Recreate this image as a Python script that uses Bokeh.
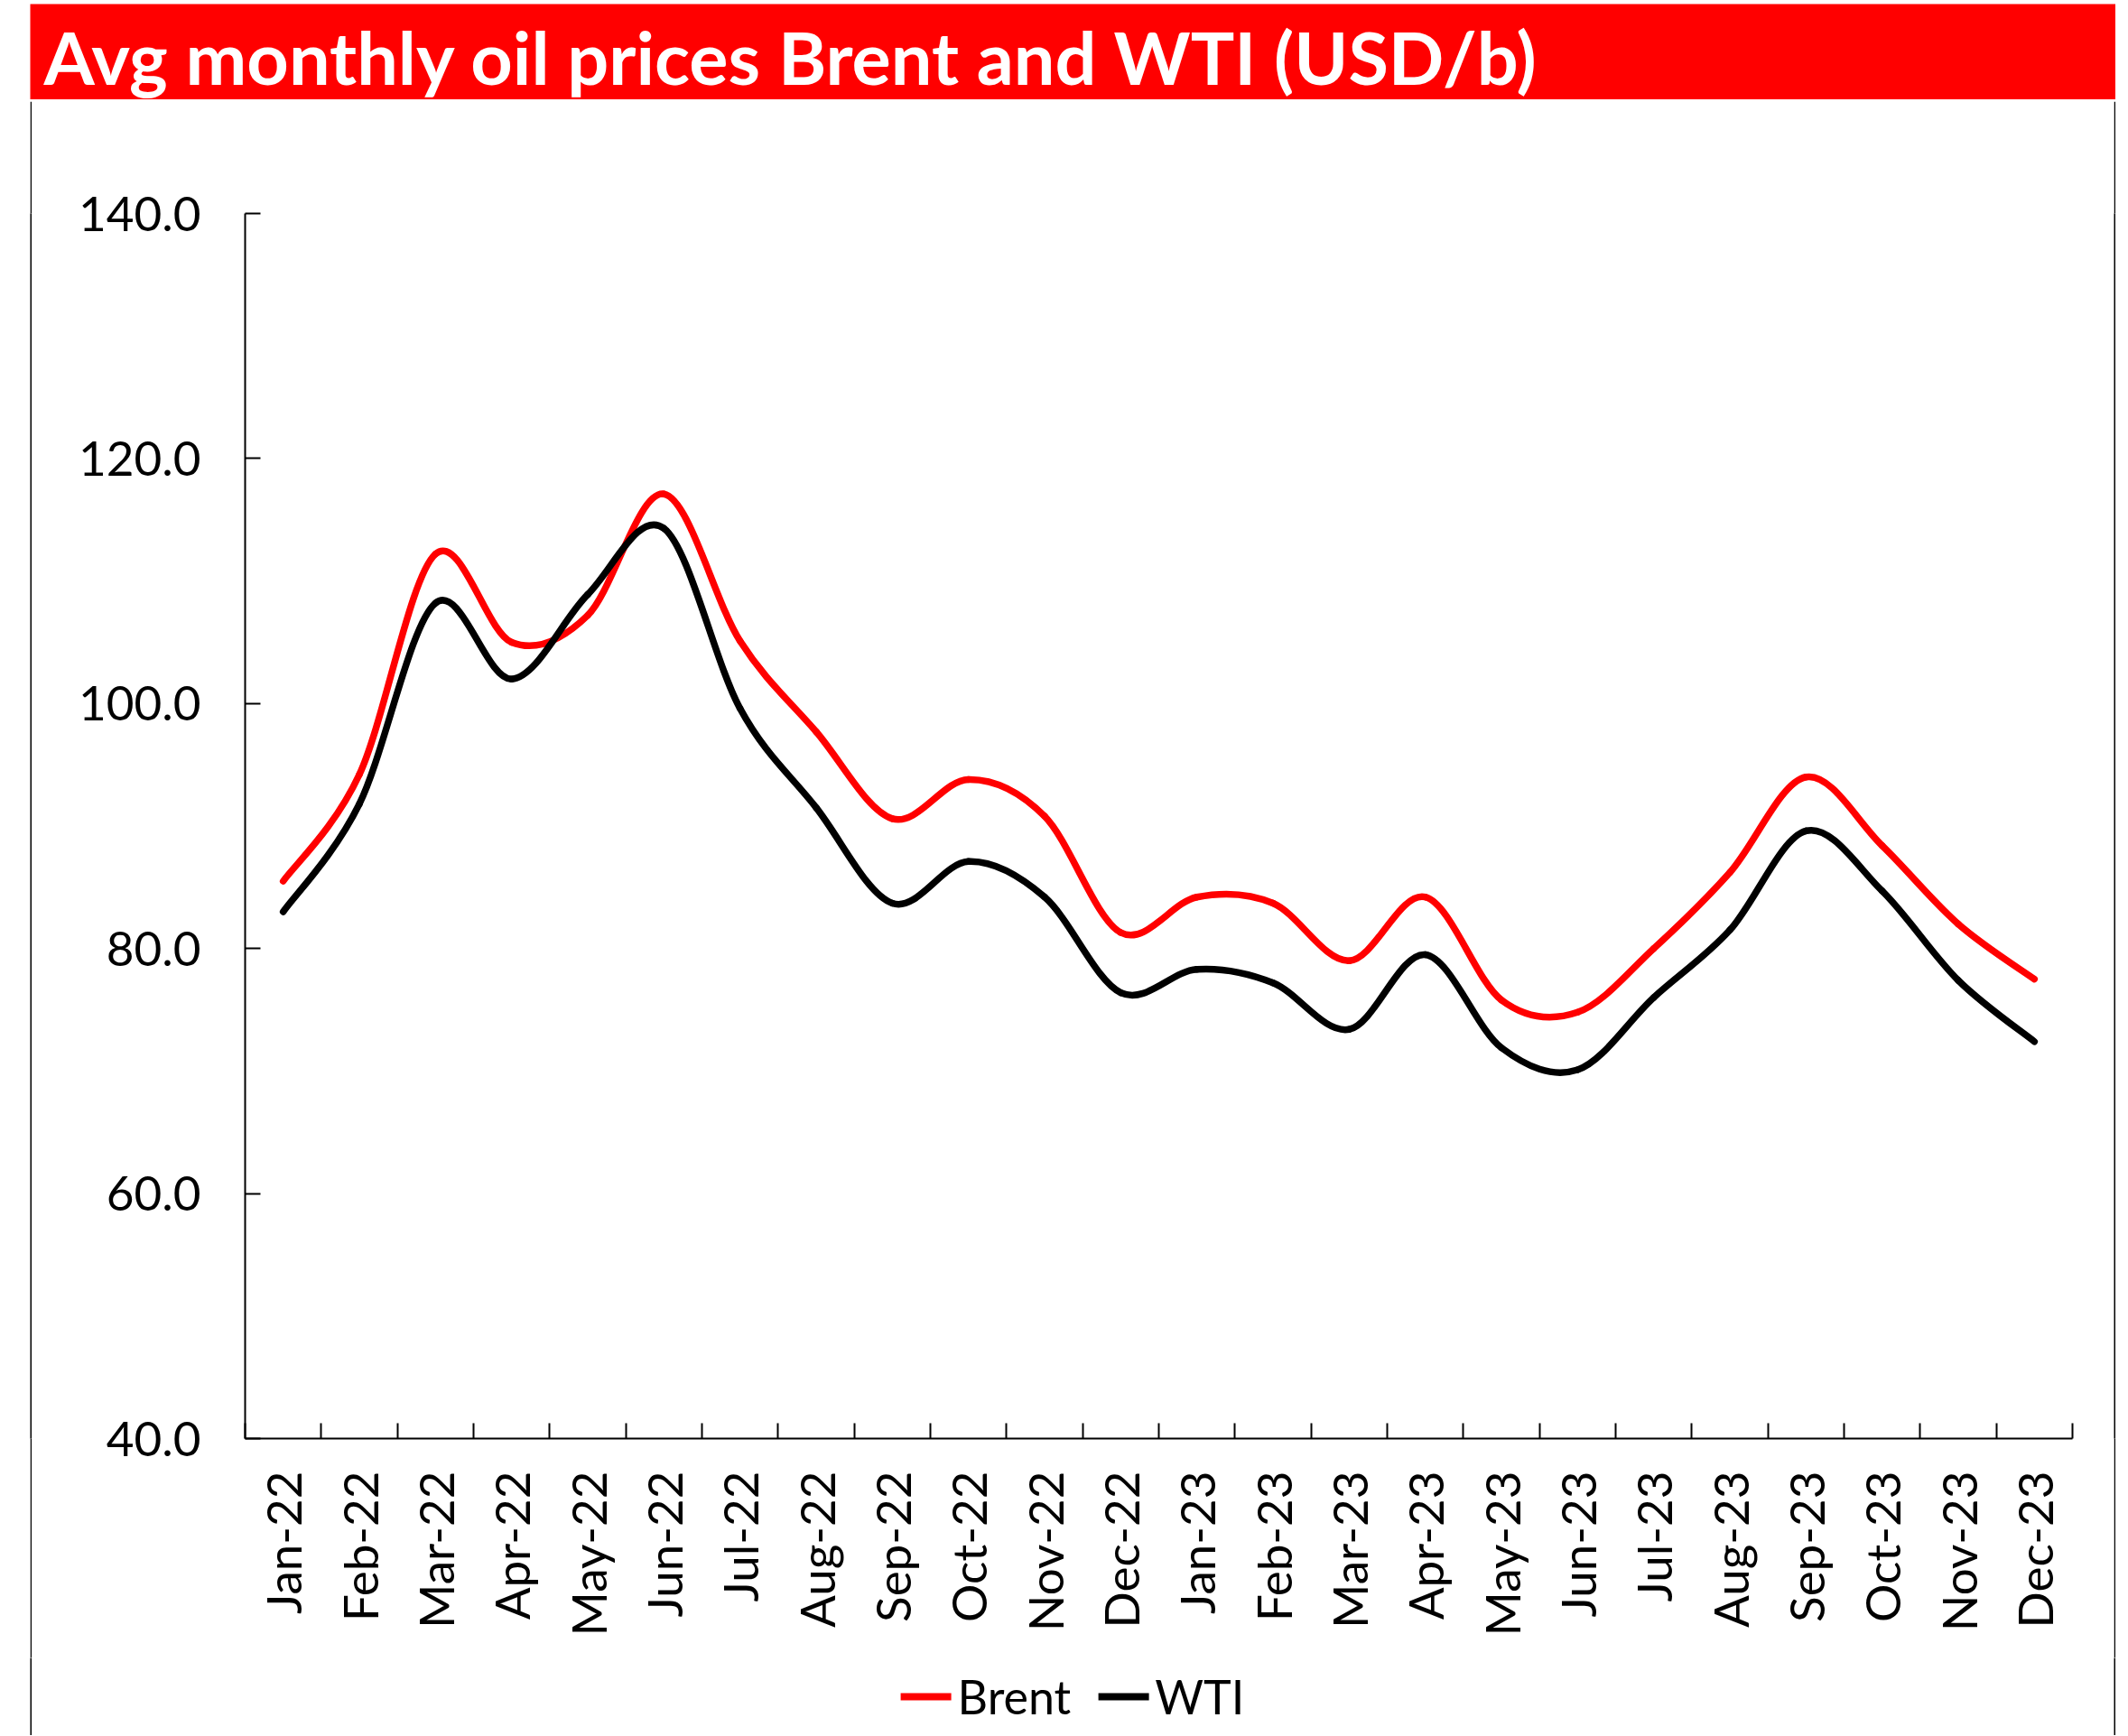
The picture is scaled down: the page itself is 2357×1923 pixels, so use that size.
import numpy as np
from bokeh.plotting import figure
from bokeh.models import (Range1d, FixedTicker, NumeralTickFormatter, Label, Legend,
                          LegendItem, Spacer, ColumnDataSource, CustomJSTickFormatter)
from bokeh.layouts import column, row
from bokeh.embed import file_html
from bokeh.resources import INLINE

# ---------------- data ----------------
months = ["Jan-22", "Feb-22", "Mar-22", "Apr-22", "May-22", "Jun-22",
          "Jul-22", "Aug-22", "Sep-22", "Oct-22", "Nov-22", "Dec-22",
          "Jan-23", "Feb-23", "Mar-23", "Apr-23", "May-23", "Jun-23",
          "Jul-23", "Aug-23", "Sep-23", "Oct-23", "Nov-23", "Dec-23"]
brent = [85.5, 94.2, 112.2, 105.0, 107.2, 117.1, 105.1, 97.7, 90.6, 93.8, 90.8, 81.3,
         84.2, 83.7, 79.0, 84.2, 75.8, 74.8, 80.0, 86.2, 94.0, 88.4, 82.0, 77.5]
wti = [83.0, 91.8, 108.2, 102.0, 108.9, 114.3, 99.6, 91.5, 83.7, 87.1, 84.2, 76.4,
       78.3, 77.2, 73.4, 79.5, 71.9, 70.1, 76.0, 81.5, 89.6, 84.7, 77.4, 72.4]
y_ticks = [40, 60, 80, 100, 120, 140]
series_names = ["Brent", "WTI"]
title_text = "Avg monthly oil prices Brent and WTI (USD/b)"

RED = "#FF0000"
BLACK = "#000000"
FONT = "Lato"


def smooth_segments(xv, yv):
    """Bezier segments (Excel-style smoothed line) between consecutive data points."""
    x = np.asarray(xv, float)
    y = np.asarray(yv, float)
    n = len(x)
    xp = np.concatenate([[x[0]], x, [x[-1]]])
    yp = np.concatenate([[y[0]], y, [y[-1]]])
    return dict(
        x0=x[:-1], y0=y[:-1], x1=x[1:], y1=y[1:],
        cx0=x[:-1] + (xp[2:n + 1] - xp[0:n - 1]) / 6.0,
        cy0=y[:-1] + (yp[2:n + 1] - yp[0:n - 1]) / 6.0,
        cx1=x[1:] - (xp[3:n + 2] - xp[1:n]) / 6.0,
        cy1=y[1:] - (yp[3:n + 2] - yp[1:n]) / 6.0,
    )


def bar_fig(w, h, color):
    f = figure(width=w, height=h, title=None, toolbar_location=None, output_backend="svg",
               x_axis_type=None, y_axis_type=None, min_border=0,
               x_range=Range1d(0, 1), y_range=Range1d(0, 1))
    f.background_fill_color = color
    f.border_fill_color = color
    f.outline_line_color = None
    f.grid.visible = False
    return f


LEFT_PAD = 33
TOP_PAD = 4
HEADER_H = 106
MAIN_W = 2306
MAIN_H = 1724
LEG_H = 86

# ---------------- header band ----------------
header = bar_fig(MAIN_W + 4, HEADER_H, RED)
header.add_layout(Label(x=15, y=58, x_units="canvas", y_units="canvas", text=title_text,
                        text_color="white", text_font=FONT, text_font_style="bold",
                        text_font_size="81px", text_baseline="middle", text_align="left"))

topbar = bar_fig(MAIN_W + 4, 2, BLACK)

# ---------------- main chart ----------------
xs = list(range(len(months)))
p = figure(width=MAIN_W, height=MAIN_H, title=None, toolbar_location=None, output_backend="svg",
           x_range=Range1d(-0.5, len(months) - 0.5), y_range=Range1d(y_ticks[0], y_ticks[-1]),
           min_border_left=236, min_border_right=46, min_border_top=124, min_border_bottom=243)
p.outline_line_color = None
p.grid.visible = False
p.background_fill_color = "white"
p.border_fill_color = "white"

for vals, colr in ((brent, RED), (wti, BLACK)):
    src = ColumnDataSource(smooth_segments(xs, vals))
    p.bezier(x0="x0", y0="y0", x1="x1", y1="y1", cx0="cx0", cy0="cy0",
             cx1="cx1", cy1="cy1", source=src, line_color=colr, line_width=7.5,
             line_cap="round")

xa = p.xaxis[0]
xa.ticker = FixedTicker(ticks=xs, minor_ticks=[i - 0.5 for i in range(len(months) + 1)])
xa.formatter = CustomJSTickFormatter(args=dict(labels=months),
                                     code="const i = Math.round(tick); return labels[i] || '';")
xa.major_label_orientation = np.pi / 2
xa.major_tick_in = 0
xa.major_tick_out = 0
xa.minor_tick_in = 17
xa.minor_tick_out = 0
xa.minor_tick_line_width = 2
xa.minor_tick_line_color = BLACK
xa.axis_line_width = 2
xa.axis_line_color = BLACK
xa.major_label_standoff = 36
xa.major_label_text_font = FONT
xa.major_label_text_font_size = "53px"
xa.major_label_text_color = BLACK

ya = p.yaxis[0]
ya.ticker = FixedTicker(ticks=y_ticks)
ya.formatter = NumeralTickFormatter(format="0.0")
ya.major_tick_in = 17
ya.major_tick_out = 0
ya.minor_tick_line_color = None
ya.major_tick_line_width = 2
ya.major_tick_line_color = BLACK
ya.axis_line_width = 2
ya.axis_line_color = BLACK
ya.major_label_standoff = 49
ya.major_label_text_font = FONT
ya.major_label_text_font_size = "53px"
ya.major_label_text_color = BLACK

# ---------------- legend strip ----------------
lg = bar_fig(MAIN_W, LEG_H, "white")
proxies = []
for colr in (RED, BLACK):
    proxies.append(lg.line(x=[np.nan], y=[np.nan], line_color=colr, line_width=8, line_cap="round"))
legend = Legend(items=[LegendItem(label=n, renderers=[r]) for n, r in zip(series_names, proxies)],
                orientation="horizontal", location="center", glyph_width=56, glyph_height=30,
                label_standoff=7, spacing=30, padding=0, margin=0,
                border_line_color=None, background_fill_alpha=0,
                label_text_font=FONT, label_text_font_size="52px", label_text_color=BLACK)
lg.add_layout(legend, "center")

layout = column(
    Spacer(width=MAIN_W + LEFT_PAD + 4, height=TOP_PAD),
    row(Spacer(width=LEFT_PAD, height=HEADER_H), header),
    row(Spacer(width=LEFT_PAD, height=2), topbar),
    row(Spacer(width=LEFT_PAD, height=MAIN_H), bar_fig(2, MAIN_H, BLACK), p, bar_fig(2, MAIN_H, BLACK)),
    row(Spacer(width=LEFT_PAD, height=LEG_H), bar_fig(2, LEG_H, BLACK), lg, bar_fig(2, LEG_H, BLACK)),
)

open("out.html", "w").write(file_html(layout, INLINE))
